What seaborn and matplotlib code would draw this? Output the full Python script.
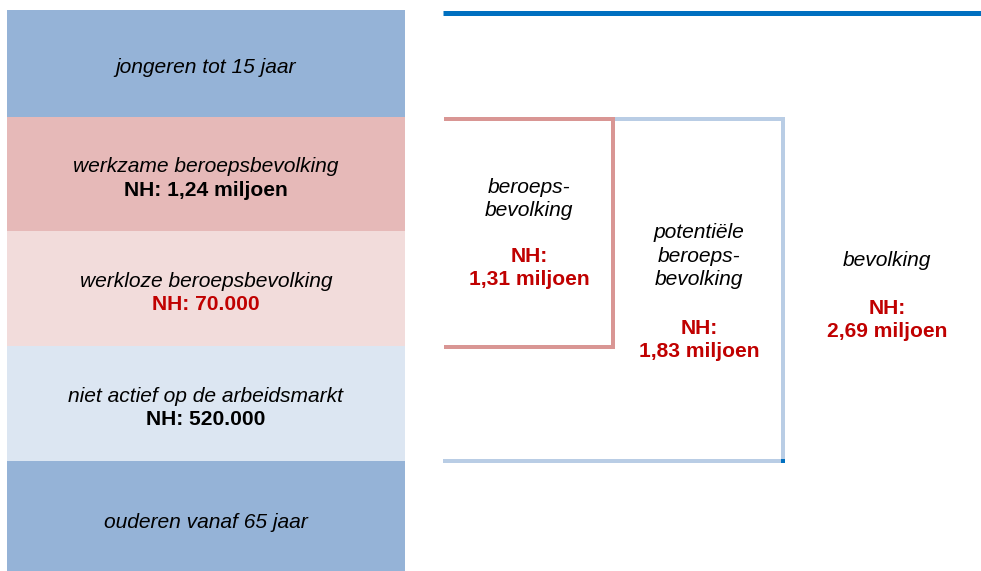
import matplotlib
matplotlib.use("Agg")
import matplotlib.pyplot as plt
import seaborn as sns

sns.set_theme(style="white")
plt.rcParams['font.family'] = ['Liberation Sans', 'DejaVu Sans']

# ---- data ----
segments = ["jongeren tot 15 jaar", "werkzame beroepsbevolking", "werkloze beroepsbevolking",
            "niet actief op de arbeidsmarkt", "ouderen vanaf 65 jaar"]
segment_values = ["", "NH: 1,24 miljoen", "NH: 70.000", "NH: 520.000", ""]
segment_value_red = [False, False, True, False, False]
segment_colors = ["#95b3d7", "#e6b9b8", "#f2dcdb", "#dce6f2", "#95b3d7"]

groups = ["beroeps-\nbevolking", "potentiële\nberoeps-\nbevolking", "bevolking"]
group_values = ["NH:\n1,31 miljoen", "NH:\n1,83 miljoen", "NH:\n2,69 miljoen"]

# ---- layout (pixel coordinates) ----
W, H = 981, 571
fig = plt.figure(figsize=(W / 100, H / 100), dpi=100)
ax = fig.add_axes([0, 0, 1, 1])
ax.set_xlim(0, W)
ax.set_ylim(H, 0)
ax.axis("off")

bounds = [10, 117, 231, 346, 461, 575]
left_x0, left_x1 = 7, 405
fs = 15.1
red = "#c00000"

for i, (name, val, isred, col) in enumerate(zip(segments, segment_values, segment_value_red, segment_colors)):
    y0, y1 = bounds[i], bounds[i + 1]
    ax.bar((left_x0 + left_x1) / 2, y1 - y0, width=left_x1 - left_x0, bottom=y0,
           color=col, edgecolor="none", linewidth=0)
    cx = (left_x0 + left_x1) / 2
    if val:
        yc = (y1 + y0) / 2
        ax.text(cx, yc - 7, name, ha="center", va="center", fontsize=fs, style="italic", color="black")
        ax.text(cx, yc + 16, val, ha="center", va="center", fontsize=fs, weight="bold",
                color=red if isred else "black")
    else:
        yc = (min(y1, H) + y0) / 2 + (6 if i == 4 else 4)
        ax.text(cx, yc, name, ha="center", va="center", fontsize=fs, style="italic", color="black")

lw = 4 * 72 / 100
# top blue line
ax.plot([443, 981], [12.5, 12.5], color="#0070c0", lw=5 * 72 / 100, solid_capstyle="butt")
# light blue bracket (potentiele beroepsbevolking)
ax.plot([613, 783, 783, 443], [119, 119, 461, 461], color="#b9cde5", lw=lw,
        solid_capstyle="butt", solid_joinstyle="miter")
# pink bracket (beroepsbevolking)
ax.plot([444, 613, 613, 444], [119, 119, 347, 347], color="#d99694", lw=lw,
        solid_capstyle="butt", solid_joinstyle="miter")
# small corner mark
ax.plot([783, 783], [459, 463], color="#0070c0", lw=lw, solid_capstyle="butt")

# group labels
group_pos = [(529, 199, 268), (699, 256, 340), (887, 260, 320)]
for g, v, (cx, ny, vy) in zip(groups, group_values, group_pos):
    ax.text(cx, ny, g, ha="center", va="center", fontsize=fs, style="italic",
            color="black", linespacing=1.3)
    ax.text(cx, vy, v, ha="center", va="center", fontsize=fs, weight="bold",
            color=red, linespacing=1.3)

fig.savefig("out.png", dpi=100)
